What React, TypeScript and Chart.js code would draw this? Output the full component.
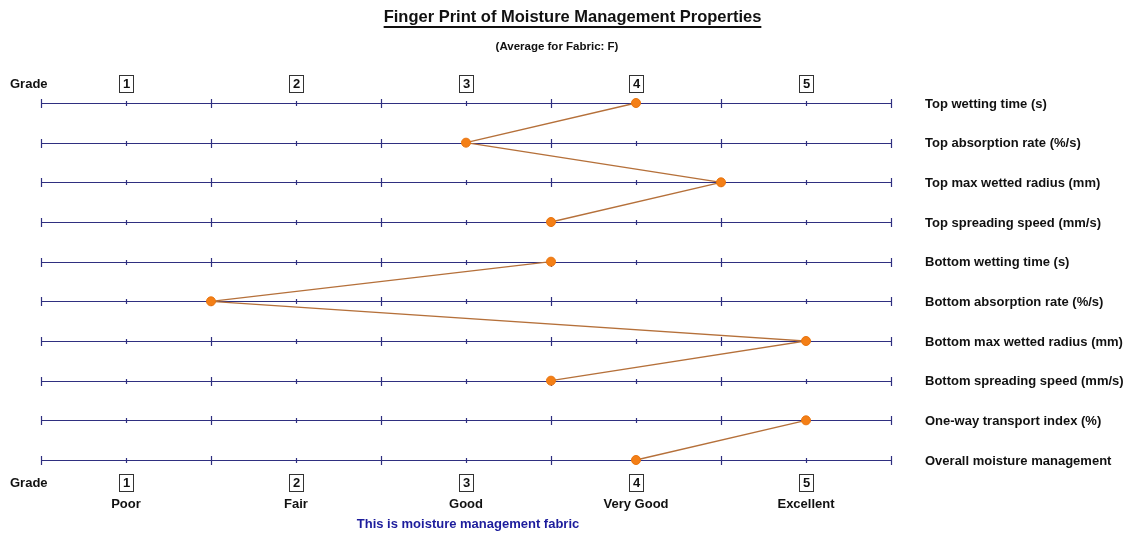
import React, { useEffect, useRef } from "react";
import { Chart, registerables } from "chart.js";

Chart.register(...registerables);

const properties = [
  "Top wetting time (s)",
  "Top absorption rate (%/s)",
  "Top max wetted radius (mm)",
  "Top spreading speed (mm/s)",
  "Bottom wetting time (s)",
  "Bottom absorption rate (%/s)",
  "Bottom max wetted radius (mm)",
  "Bottom spreading speed (mm/s)",
  "One-way transport index (%)",
  "Overall moisture management",
];
const grades = [4, 3, 4.5, 3.5, 3.5, 1.5, 5, 3.5, 5, 4];
// groups of properties joined by a line (top surface, bottom surface, overall)
const groups = [
  [0, 1, 2, 3],
  [4, 5, 6, 7],
  [8, 9],
];
const gradeTicks = [1, 2, 3, 4, 5];
const gradeNames = ["Poor", "Fair", "Good", "Very Good", "Excellent"];
const halfTicks = [0.5, 1, 1.5, 2, 2.5, 3, 3.5, 4, 4.5, 5, 5.5];

const FONT = 'Arial, "Liberation Sans", sans-serif';
const NAVY = "#2f2f80";

const decorPlugin = {
  id: "decor",
  beforeDatasetsDraw(chart: any) {
    const { ctx, scales } = chart;
    const xs = scales.x;
    const ys = scales.y;
    ctx.save();
    ctx.strokeStyle = NAVY;
    ctx.lineWidth = 1.2;
    properties.forEach((_, i) => {
      const y = Math.round(ys.getPixelForValue(i)) + 0.5;
      ctx.beginPath();
      ctx.moveTo(xs.getPixelForValue(0.5), y);
      ctx.lineTo(xs.getPixelForValue(5.5), y);
      ctx.stroke();
      halfTicks.forEach((t) => {
        const x = Math.round(xs.getPixelForValue(t)) + 0.5;
        const h = Number.isInteger(t) ? 2.5 : 4.5;
        ctx.beginPath();
        ctx.moveTo(x, y - h);
        ctx.lineTo(x, y + h);
        ctx.stroke();
      });
    });
    ctx.restore();
  },
  afterDraw(chart: any) {
    const { ctx, scales } = chart;
    const xs = scales.x;
    const ys = scales.y;
    ctx.save();
    ctx.fillStyle = "#111";
    ctx.textBaseline = "middle";
    // title
    ctx.font = `bold 16.5px ${FONT}`;
    ctx.textAlign = "center";
    const title = "Finger Print of Moisture Management Properties";
    const tx = 572.5;
    const ty = 17;
    ctx.fillText(title, tx, ty);
    const tw = ctx.measureText(title).width;
    ctx.strokeStyle = "#111";
    ctx.lineWidth = 2;
    ctx.beginPath();
    ctx.moveTo(tx - tw / 2, ty + 10);
    ctx.lineTo(tx + tw / 2, ty + 10);
    ctx.stroke();
    ctx.font = `bold 11.5px ${FONT}`;
    ctx.fillText("(Average for Fabric: F)", 557, 47);

    // row labels
    ctx.font = `bold 13px ${FONT}`;
    ctx.textAlign = "left";
    properties.forEach((p, i) => {
      ctx.fillText(p, 925, ys.getPixelForValue(i) + 1);
    });

    // grade rows
    const top = ys.getPixelForValue(0);
    const bottom = ys.getPixelForValue(properties.length - 1);
    ctx.fillText("Grade", 10, top - 19);
    ctx.fillText("Grade", 10, bottom + 23);
    ctx.textAlign = "center";
    const drawBoxes = (cy: number) => {
      gradeTicks.forEach((g) => {
        const x = Math.round(xs.getPixelForValue(g));
        ctx.strokeStyle = "#333";
        ctx.lineWidth = 1;
        ctx.strokeRect(x - 6.5, cy - 8.5, 14, 17);
        ctx.fillStyle = "#111";
        ctx.fillText(String(g), x + 0.5, cy + 0.5);
      });
    };
    drawBoxes(top - 19);
    drawBoxes(bottom + 23);
    gradeNames.forEach((n, i) => {
      ctx.fillText(n, xs.getPixelForValue(gradeTicks[i]), bottom + 44);
    });
    ctx.fillStyle = "#1c1c9c";
    ctx.fillText("This is moisture management fabric", 468, bottom + 64);
    ctx.restore();
  },
};

export default function App() {
  const ref = useRef<HTMLCanvasElement>(null);
  useEffect(() => {
    if (!ref.current) return;
    const chart = new Chart(ref.current, {
      type: "line",
      data: {
        datasets: groups.map((g) => ({
          data: g.map((i) => ({ x: grades[i], y: i })),
          borderColor: "#b5703a",
          borderWidth: 1.3,
          pointBackgroundColor: "#f47f16",
          pointBorderColor: "#e8740e",
          pointRadius: 4.5,
          pointBorderWidth: 1,
          clip: false as any,
          tension: 0,
        })),
      },
      options: {
        animation: false,
        responsive: false,
        maintainAspectRatio: false,
        layout: { padding: { left: 41, right: 236, top: 103, bottom: 73 } },
        plugins: { legend: { display: false }, tooltip: { enabled: false }, title: { display: false } },
        scales: {
          x: { type: "linear", min: 0.5, max: 5.5, display: false },
          y: { type: "linear", min: 0, max: properties.length - 1, reverse: true, display: false },
        },
      },
      plugins: [decorPlugin],
    });
    return () => chart.destroy();
  }, []);
  return (
    <canvas
      ref={ref}
      width={1127}
      height={533}
      style={{ position: "fixed", left: 0, top: 0, width: 1127, height: 533, background: "#fff" }}
    />
  );
}
